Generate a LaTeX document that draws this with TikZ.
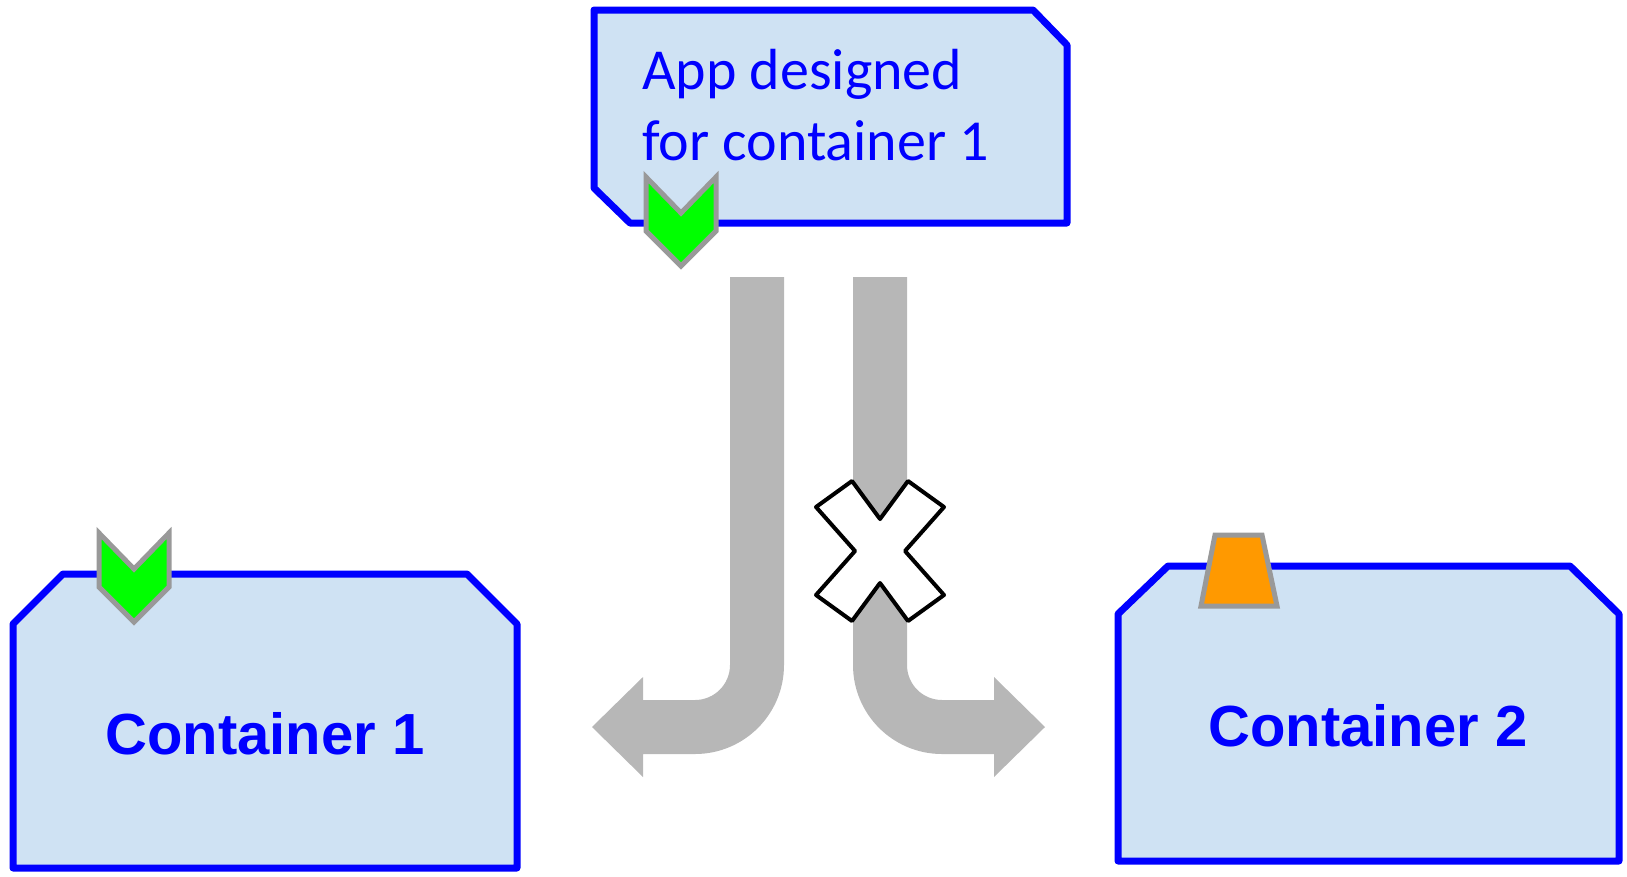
\documentclass[tikz,border=0pt]{standalone}
\usepackage{fontspec}
\newfontfamily\calibfont{Carlito}
\newfontfamily\arialfont{Liberation Sans}
\definecolor{boxfill}{HTML}{CFE2F3}
\definecolor{boxline}{HTML}{0000FF}
\definecolor{flowgray}{HTML}{B7B7B7}
\definecolor{tabgray}{HTML}{999999}
\definecolor{okgreen}{HTML}{00FF00}
\definecolor{taborange}{HTML}{FF9900}
\tikzset{
  panel/.style={draw=boxline, fill=boxfill, line width=7pt, line join=round},
  tabline/.style={draw=tabgray, line width=5pt, line join=miter},
  flow/.style={fill=flowgray, draw=none},
  nogo/.style={draw=black, fill=white, line width=4pt, line join=round},
  apptext/.style={font=\calibfont\fontsize{58}{71}\selectfont, text=boxline, inner sep=0pt, align=left},
  boxtext/.style={font=\arialfont\bfseries\fontsize{58}{70}\selectfont, text=boxline, inner sep=0pt},
  chevron/.pic={
    \path[tabline, fill=okgreen] (-35,0) -- (0,36) -- (35,0) -- (35,54) -- (0,89) -- (-35,54) -- cycle;
  },
  plug/.pic={
    \path[tabline, fill=taborange] (-23,0) -- (24,0) -- (39,71) -- (-37,71) -- cycle;
  }
}
\begin{document}
\begin{tikzpicture}[x=1pt, y=-1pt]
\useasboundingbox (0,0) rectangle (1627,876);

% application box with the green connector
\path[panel] (594,10) -- (1033,10) -- (1067,45) -- (1067,223) -- (630,223) -- (594,188) -- cycle;
\node[apptext, anchor=base west] (app) at (642,160) {App designed\\for container 1};
\pic at (681,177) {chevron};

% container 1 with matching green socket
\path[panel] (13,868) -- (13,624) -- (63,574) -- (467,574) -- (517,624) -- (517,868) -- cycle;
\node[boxtext, anchor=base] (c1) at (265,754) {Container 1};
\pic at (134,533) {chevron};

% container 2 with an orange socket
\path[panel] (1118,861) -- (1118,614) -- (1168,566) -- (1570,566) -- (1619,614) -- (1619,861) -- cycle;
\node[boxtext, anchor=base] (c2) at (1368,746) {Container 2};
\pic at (1238,535) {plug};

% flow to container 1
\path[flow] (730,277) -- (784,277) -- (784,665)
  arc[start angle=0, end angle=90, radius=89] -- (643,754) -- (643,777)
  -- (592,727) -- (643,677) -- (643,700) -- (695,700)
  arc[start angle=90, end angle=0, radius=35] -- cycle;

% flow to container 2
\path[flow] (907,277) -- (853,277) -- (853,665)
  arc[start angle=180, end angle=90, radius=89] -- (994,754) -- (994,777)
  -- (1045,727) -- (994,677) -- (994,700) -- (942,700)
  arc[start angle=90, end angle=180, radius=35] -- cycle;

% blocked mark on the second flow
\begin{scope}[shift={(880,551)}]
\path[nogo] (0,-32) -- (28,-70) -- (64,-44) -- (25,0) -- (64,44) -- (28,70)
  -- (0,32) -- (-28,70) -- (-64,44) -- (-25,0) -- (-64,-44) -- (-28,-70) -- cycle;
\end{scope}
\end{tikzpicture}
\end{document}
